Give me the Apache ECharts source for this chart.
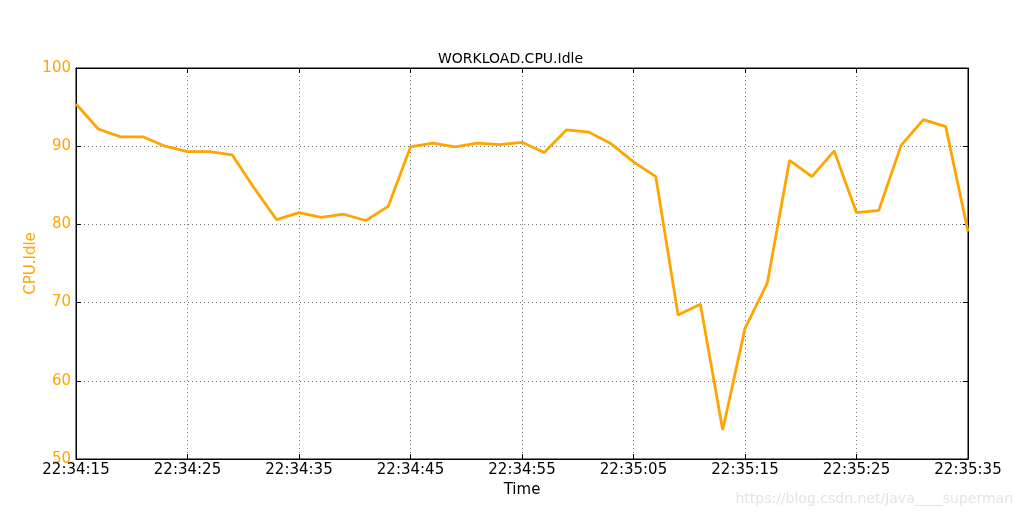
<!DOCTYPE html>
<html>
<head>
<meta charset="utf-8">
<script src="https://cdn.jsdelivr.net/npm/echarts@6/dist/echarts.min.js"></script>
<style>html,body{margin:0;padding:0;background:#fff}#c{width:1021px;height:518px}</style>
</head>
<body>
<div id="c"></div>
<script>
var times = ["22:34:15","22:34:17","22:34:19","22:34:21","22:34:23","22:34:25","22:34:27","22:34:29","22:34:31","22:34:33",
"22:34:35","22:34:37","22:34:39","22:34:41","22:34:43","22:34:45","22:34:47","22:34:49","22:34:51","22:34:53",
"22:34:55","22:34:57","22:34:59","22:35:01","22:35:03","22:35:05","22:35:07","22:35:09","22:35:11","22:35:13",
"22:35:15","22:35:17","22:35:19","22:35:21","22:35:23","22:35:25","22:35:27","22:35:29","22:35:31","22:35:33","22:35:35"];
var cpuIdle = [95.4,92.2,91.2,91.2,90.0,89.3,89.3,88.9,84.6,80.6,
81.5,80.9,81.3,80.5,82.3,89.9,90.4,89.9,90.4,90.2,
90.5,89.2,92.1,91.8,90.3,88.0,86.1,68.4,69.8,53.7,
66.7,72.5,88.2,86.1,89.4,81.5,81.8,90.1,93.4,92.5,79.1];
var yTicks = [50,60,70,80,90,100];

var font = "DejaVu Sans";
var orange = "#FFA500";
var chart = echarts.init(document.getElementById('c'), null, {renderer:'canvas'});
var gridDot = {show:true, lineStyle:{color:'#777', type:[1,3], width:1}};
chart.setOption({
  animation:false,
  backgroundColor:'#fff',
  title:{text:'WORKLOAD.CPU.Idle', left:'center', top:47, textStyle:{fontFamily:font, fontSize:14, fontWeight:'normal', color:'#000'}},
  grid:{left:76, right:53, top:68, bottom:59, show:true, borderColor:'#000', borderWidth:1},
  graphic:[{type:'text', right:8, top:492, style:{text:'https://blog.csdn.net/Java____superman', fill:'#e4e4e4', font:'14px "DejaVu Sans"'}}],
  xAxis:[{
    type:'category', data:times, boundaryGap:false,
    name:'Time', nameLocation:'middle', nameGap:24, nameMoveOverlap:false, nameTextStyle:{fontFamily:font, fontSize:15, color:'#000'},
    axisLine:{lineStyle:{color:'#000'}},
    axisTick:{inside:true, length:5, interval:4, lineStyle:{color:'#000'}},
    axisLabel:{interval:4, fontFamily:font, fontSize:15, color:'#000', margin:4},
    splitLine:Object.assign({interval:4}, gridDot)
  },{
    type:'category', data:times, boundaryGap:false, position:'top',
    axisLine:{lineStyle:{color:'#000'}},
    axisTick:{inside:true, length:5, interval:4, lineStyle:{color:'#000'}},
    axisLabel:{show:false}, splitLine:{show:false}
  }],
  yAxis:[{
    type:'value', min:50, max:100, interval:10,
    name:'CPU.Idle', nameLocation:'middle', nameGap:37, nameMoveOverlap:false, nameTextStyle:{fontFamily:font, fontSize:15, color:orange},
    axisLine:{show:true, lineStyle:{color:'#000'}},
    axisTick:{show:true, inside:true, length:5, lineStyle:{color:'#000'}},
    axisLabel:{fontFamily:font, fontSize:15, color:orange, margin:5, formatter:function(v){return yTicks.indexOf(v)>=0?String(v):'';}},
    splitLine:gridDot
  },{
    type:'value', min:50, max:100, interval:10, position:'right',
    axisLine:{show:true, lineStyle:{color:'#000'}},
    axisTick:{show:true, inside:true, length:5, lineStyle:{color:'#000'}},
    axisLabel:{show:false}, splitLine:{show:false}
  }],
  series:[{
    type:'line', data:cpuIdle, xAxisIndex:0, yAxisIndex:0,
    showSymbol:false, symbol:'none',
    lineStyle:{color:orange, width:2.8}, itemStyle:{color:orange}
  }]
});
</script>
</body>
</html>
